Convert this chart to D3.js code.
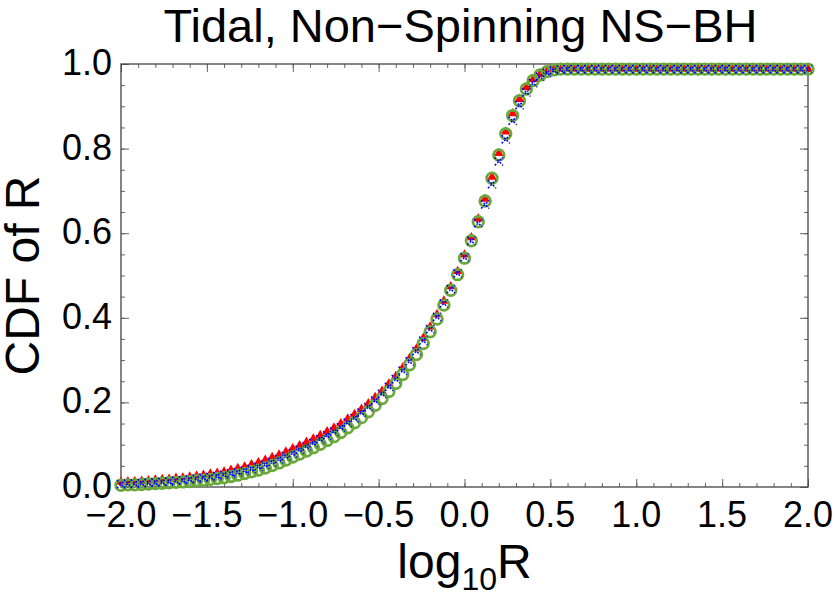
<!DOCTYPE html>
<html>
<head>
<meta charset = 'utf-8'>
<script src = 'https://d3js.org/d3.v7.min.js'></script>
<style>
body {margin: 0; background: #fff;}
text {font-family: 'Liberation Sans', Arial, sans-serif;}
</style>
</head>
<body>
<div id="my_dataviz"></div>
<script>
// log10 R sample points
var logR = [
-2.00,-1.96,-1.92,-1.88,-1.84,-1.80,-1.76,-1.72,-1.68,-1.64,
-1.60,-1.56,-1.52,-1.48,-1.44,-1.40,-1.36,-1.32,-1.28,-1.24,
-1.20,-1.16,-1.12,-1.08,-1.04,-1.00,-0.96,-0.92,-0.88,-0.84,
-0.80,-0.76,-0.72,-0.68,-0.64,-0.60,-0.56,-0.52,-0.48,-0.44,
-0.40,-0.36,-0.32,-0.28,-0.24,-0.20,-0.16,-0.12,-0.08,-0.04,
0.00,0.04,0.08,0.12,0.16,0.20,0.24,0.28,0.32,0.36,
0.40,0.44,0.48,0.52,0.56,0.60,0.64,0.68,0.72,0.76,
0.80,0.84,0.88,0.92,0.96,1.00,1.04,1.08,1.12,1.16,
1.20,1.24,1.28,1.32,1.36,1.40,1.44,1.48,1.52,1.56,
1.60,1.64,1.68,1.72,1.76,1.80,1.84,1.88,1.92,1.96,
2.00];

var cdfRed = [
0.012,0.013,0.013,0.014,0.015,0.017,0.018,0.019,0.021,0.022,
0.024,0.026,0.028,0.031,0.033,0.036,0.040,0.044,0.048,0.053,
0.058,0.064,0.070,0.076,0.083,0.091,0.098,0.106,0.114,0.122,
0.131,0.140,0.150,0.161,0.172,0.184,0.197,0.212,0.227,0.244,
0.262,0.282,0.304,0.327,0.352,0.379,0.408,0.440,0.474,0.510,
0.549,0.590,0.634,0.681,0.733,0.789,0.840,0.883,0.917,0.945,
0.964,0.976,0.983,0.987,0.988,0.988,0.988,0.988,0.988,0.988,
0.988,0.988,0.988,0.988,0.988,0.988,0.988,0.988,0.988,0.988,
0.988,0.988,0.988,0.988,0.988,0.988,0.988,0.988,0.988,0.988,
0.988,0.988,0.988,0.988,0.988,0.988,0.988,0.988,0.988,0.988,
0.988];

var cdfGreen = [
0.004,0.005,0.005,0.006,0.007,0.008,0.009,0.010,0.011,0.012,
0.013,0.015,0.016,0.018,0.020,0.022,0.025,0.028,0.032,0.036,
0.040,0.045,0.051,0.057,0.064,0.071,0.078,0.085,0.093,0.101,
0.110,0.119,0.129,0.140,0.152,0.164,0.178,0.193,0.209,0.226,
0.245,0.266,0.289,0.313,0.339,0.367,0.397,0.430,0.465,0.502,
0.541,0.582,0.627,0.676,0.730,0.785,0.835,0.878,0.913,0.941,
0.961,0.974,0.982,0.986,0.988,0.988,0.988,0.988,0.988,0.988,
0.988,0.988,0.988,0.988,0.988,0.988,0.988,0.988,0.988,0.988,
0.988,0.988,0.988,0.988,0.988,0.988,0.988,0.988,0.988,0.988,
0.988,0.988,0.988,0.988,0.988,0.988,0.988,0.988,0.988,0.988,
0.988];

var cdfBlue = [
0.007,0.008,0.008,0.009,0.010,0.011,0.012,0.013,0.015,0.016,
0.018,0.020,0.022,0.024,0.026,0.029,0.032,0.035,0.039,0.043,
0.048,0.053,0.059,0.066,0.073,0.080,0.088,0.096,0.104,0.113,
0.122,0.131,0.141,0.152,0.163,0.176,0.189,0.204,0.220,0.237,
0.255,0.275,0.297,0.321,0.346,0.373,0.402,0.434,0.468,0.505,
0.543,0.582,0.624,0.668,0.716,0.770,0.822,0.866,0.903,0.933,
0.955,0.970,0.979,0.985,0.987,0.988,0.988,0.988,0.988,0.988,
0.988,0.988,0.988,0.988,0.988,0.988,0.988,0.988,0.988,0.988,
0.988,0.988,0.988,0.988,0.988,0.988,0.988,0.988,0.988,0.988,
0.988,0.988,0.988,0.988,0.988,0.988,0.988,0.988,0.988,0.988,
0.988];

var xTicks = [-2.0,-1.5,-1.0,-0.5,0.0,0.5,1.0,1.5,2.0];
var yTicks = [0.0,0.2,0.4,0.6,0.8,1.0];

var margin = {top: 64, right: 25, bottom: 113, left: 121},
width = 833 - margin.left - margin.right,
height = 600 - margin.top - margin.bottom;

var svg = d3.select('#my_dataviz')
.append('svg')
.attr('width', 833)
.attr('height', 600);

var g = svg.append('g')
.attr('transform', 'translate(' + margin.left + ',' + margin.top + ')');

var x = d3.scaleLinear().domain([-2, 2]).range([0, width]);
var y = d3.scaleLinear().domain([0, 1]).range([height, 0]);

var fmt = function(d) { return d3.format('.1f')(d).replace('-', '\u2212'); };
var minorX = d3.range(-20, 21).map(function(d) { return d / 10; });
var minorY = d3.range(0, 21).map(function(d) { return d / 20; });

// frame ticks, all four sides, pointing inward
function ticks(axis, scale, vals, size) {
  return axis(scale).tickValues(vals).tickSize(size).tickFormat('');
}
var tickCol = '#666';
g.append('g').attr('transform', 'translate(0,' + height + ')')
.call(ticks(d3.axisTop, x, minorX, 4));
g.append('g').attr('transform', 'translate(0,' + height + ')')
.call(ticks(d3.axisTop, x, xTicks, 8));
g.append('g').call(ticks(d3.axisBottom, x, minorX, 4));
g.append('g').call(ticks(d3.axisBottom, x, xTicks, 8));
g.append('g').call(ticks(d3.axisRight, y, minorY, 4));
g.append('g').call(ticks(d3.axisRight, y, yTicks, 8));
g.append('g').attr('transform', 'translate(' + width + ',0)')
.call(ticks(d3.axisLeft, y, minorY, 4));
g.append('g').attr('transform', 'translate(' + width + ',0)')
.call(ticks(d3.axisLeft, y, yTicks, 8));
g.selectAll('.domain').remove();
g.selectAll('.tick line').style('stroke', tickCol).style('stroke-width', 1);

g.append('rect')
.attr('width', width).attr('height', height)
.style('fill', 'none').style('stroke', '#444').style('stroke-width', 1.3);

// tick labels
g.selectAll('.xlab').data(xTicks).enter().append('text')
.attr('x', function(d) { return x(d); })
.attr('y', height + 40)
.attr('text-anchor', 'middle')
.style('font-size', '36px')
.text(fmt);

g.selectAll('.ylab').data(yTicks).enter().append('text')
.attr('x', -9)
.attr('y', function(d) { return y(d) + 11; })
.attr('text-anchor', 'end')
.style('font-size', '36px')
.text(fmt);

// data points
function pts(vals) {
  return vals.map(function(v, i) { return {x: logR[i], y: v}; });
}

g.selectAll('.red').data(pts(cdfRed)).enter().append('path')
.attr('d', d3.symbol().type(d3.symbolTriangle).size(40))
.attr('transform', function(d) { return 'translate(' + x(d.x) + ',' + y(d.y) + ')'; })
.style('fill', '#ff0000');

g.selectAll('.green').data(pts(cdfGreen)).enter().append('circle')
.attr('cx', function(d) { return x(d.x); })
.attr('cy', function(d) { return y(d.y); })
.attr('r', 5.3)
.style('fill', 'none')
.style('stroke', '#6aa83a')
.style('stroke-width', 2.8);

g.selectAll('.blue').data(pts(cdfBlue)).enter().append('path')
.attr('d', d3.symbol().type(d3.symbolX).size(45))
.attr('transform', function(d) { return 'translate(' + x(d.x) + ',' + y(d.y) + ')'; })
.style('fill', 'none')
.style('stroke', '#0000ff')
.style('stroke-width', 1.5)
.style('stroke-dasharray', '2,1.5');

// titles
svg.append('text')
.attr('x', margin.left + width / 2 - 4)
.attr('y', 42)
.attr('text-anchor', 'middle')
.style('font-size', '47px')
.text('Tidal, Non\u2212Spinning NS\u2212BH');

var xl = svg.append('text')
.attr('x', margin.left + width / 2)
.attr('y', 578)
.attr('text-anchor', 'middle')
.style('font-size', '48px');
xl.append('tspan').text('log');
xl.append('tspan').attr('dy', 12).style('font-size', '32px').text('10');
xl.append('tspan').attr('dy', -12).text('R');

svg.append('text')
.attr('transform', 'translate(39,' + (margin.top + height / 2) + ') rotate(-90)')
.attr('text-anchor', 'middle')
.style('font-size', '48px')
.text('CDF of R');
</script>
</body>
</html>
